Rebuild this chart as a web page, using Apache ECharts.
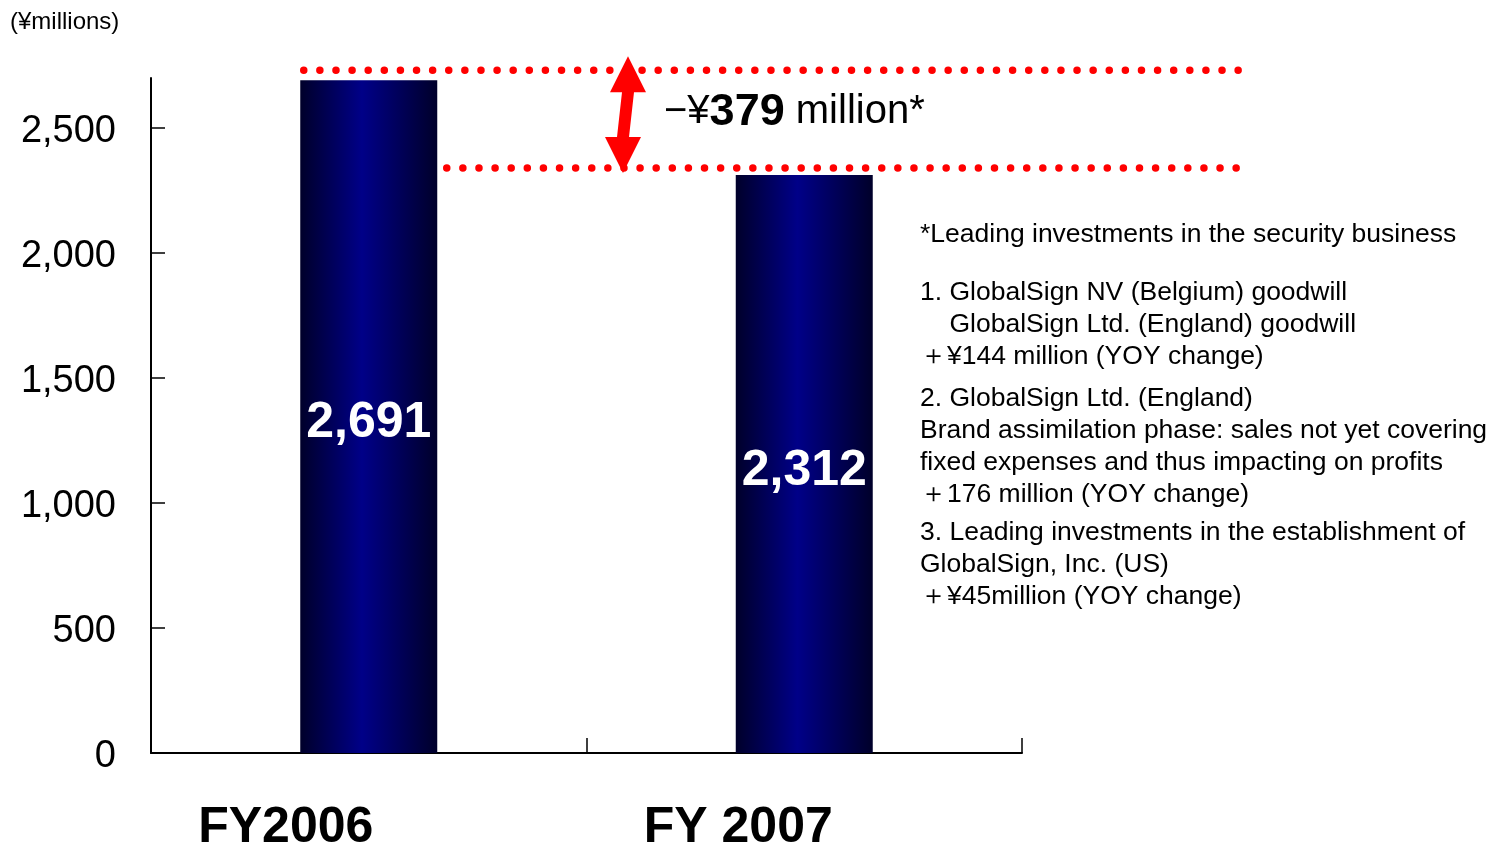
<!DOCTYPE html>
<html>
<head>
<meta charset="utf-8">
<script src="https://cdn.jsdelivr.net/npm/echarts@6/dist/echarts.min.js"></script>
<style>
html,body{margin:0;padding:0;background:#fff}
#main{width:1491px;height:848px}
</style>
</head>
<body>
<div id="main"></div>
<script>
var years = ['FY2006', 'FY 2007'];
var income = [2691, 2312];
var yTicks = [0, 500, 1000, 1500, 2000, 2500];
var unitLabel = '(¥millions)';
var notes = [
  ['*Leading investments in the security business'],
  ['1. GlobalSign NV (Belgium) goodwill',
   '    GlobalSign Ltd. (England) goodwill',
   '＋¥144 million (YOY change)'],
  ['2. GlobalSign Ltd. (England)',
   'Brand assimilation phase: sales not yet covering',
   'fixed expenses and thus impacting on profits',
   '＋176 million (YOY change)'],
  ['3. Leading investments in the establishment of',
   'GlobalSign, Inc. (US)',
   '＋¥45million (YOY change)']
];

var sans = '"Liberation Sans", Arial, sans-serif';

var myChart = echarts.init(document.getElementById('main'));
var option = {
  animation: false,
  grid: {left: 151, right: 469, top: 78, bottom: 95, outerBoundsMode: 'none', containLabel: false},
  xAxis: {
    type: 'category',
    data: years,
    axisLine: {lineStyle: {color: '#000', width: 2}},
    axisTick: {show: true, interval: 0, inside: true, length: 15, lineStyle: {color: '#000', width: 1.5}},
    axisLabel: {
      margin: 50,
      interval: 0,
      formatter: function (v, i) { return '{l' + i + '|' + v + '}'; },
      rich: {
        l0: {fontFamily: sans, fontWeight: 'bold', fontSize: 50, color: '#000', padding: [0, 166, 0, 0]},
        l1: {fontFamily: sans, fontWeight: 'bold', fontSize: 50, color: '#000', padding: [0, 132, 0, 0]}
      }
    }
  },
  yAxis: {
    type: 'value',
    min: 0,
    max: 2700,
    interval: 500,
    splitLine: {show: false},
    axisLine: {show: true, lineStyle: {color: '#000', width: 2}},
    axisTick: {show: true, inside: true, length: 14, customValues: yTicks, lineStyle: {color: '#000', width: 1.5}},
    axisLabel: {
      customValues: yTicks,
      margin: 35,
      formatter: function (v) { return '{v|' + v.toLocaleString('en-US') + '}'; },
      rich: {
        v: {fontFamily: sans, fontSize: 38, color: '#000', padding: [8, 0, 0, 0]}
      }
    }
  },
  series: [{
    type: 'bar',
    data: income,
    barWidth: 137,
    itemStyle: {
      color: new echarts.graphic.LinearGradient(0, 0, 1, 0, [
        {offset: 0, color: '#00002a'},
        {offset: 0.45, color: '#000088'},
        {offset: 1, color: '#00002a'}
      ])
    },
    label: {
      show: true,
      position: 'inside',
      offset: [0, 7],
      fontFamily: sans,
      fontWeight: 'bold',
      fontSize: 50,
      color: '#fff',
      formatter: function (p) { return p.value.toLocaleString('en-US'); }
    }
  }]
};
myChart.setOption(option);

// annotation: dotted lines, arrow and difference text
var yTop = myChart.convertToPixel({yAxisIndex: 0}, income[0]) - 10;
var yBot = myChart.convertToPixel({yAxisIndex: 0}, income[1]) - 7;
var bar0 = myChart.convertToPixel({xAxisIndex: 0}, years[0]);
var lineEnd = 1242;
var ax = 628, bx = 623;
var diff = income[0] - income[1];

var dots = {stroke: '#ff0000', lineWidth: 7.5, lineDash: [0.01, 16.1], lineCap: 'round'};
var graphics = [
  {type: 'line', shape: {x1: bar0 - 65, y1: yTop, x2: lineEnd, y2: yTop}, style: dots},
  {type: 'line', shape: {x1: bar0 + 78, y1: yBot, x2: lineEnd, y2: yBot}, style: dots},
  {type: 'polygon', shape: {points: [
    [ax, yTop - 14], [ax + 18, yTop + 22], [ax + 6, yTop + 22], [bx + 6, yBot - 31],
    [bx + 18, yBot - 31], [bx, yBot + 5], [bx - 18, yBot - 31], [bx - 6, yBot - 31],
    [ax - 6, yTop + 22], [ax - 18, yTop + 22]
  ]}, style: {fill: '#ff0000'}},
  {type: 'text', x: 664, y: (yTop + yBot) / 2 - 7, style: {
    text: '{n|−¥}{b|' + diff + '}{n| million*}',
    verticalAlign: 'middle',
    rich: {
      n: {fontFamily: sans, fontSize: 40, fill: '#000'},
      b: {fontFamily: sans, fontSize: 45, fontWeight: 'bold', fill: '#000'}
    }
  }},
  {type: 'text', x: 10, y: 22, style: {text: unitLabel, fontFamily: sans, fontSize: 24, fill: '#000', verticalAlign: 'middle'}}
];

var noteTops = [219, 277, 383, 517];
notes.forEach(function (para, i) {
  graphics.push({type: 'text', x: 920, y: noteTops[i], style: {
    text: para.join('\n'), fontFamily: sans, fontSize: 26.5, lineHeight: 32, fill: '#000'
  }});
});
myChart.setOption({graphic: graphics});
</script>
</body>
</html>
